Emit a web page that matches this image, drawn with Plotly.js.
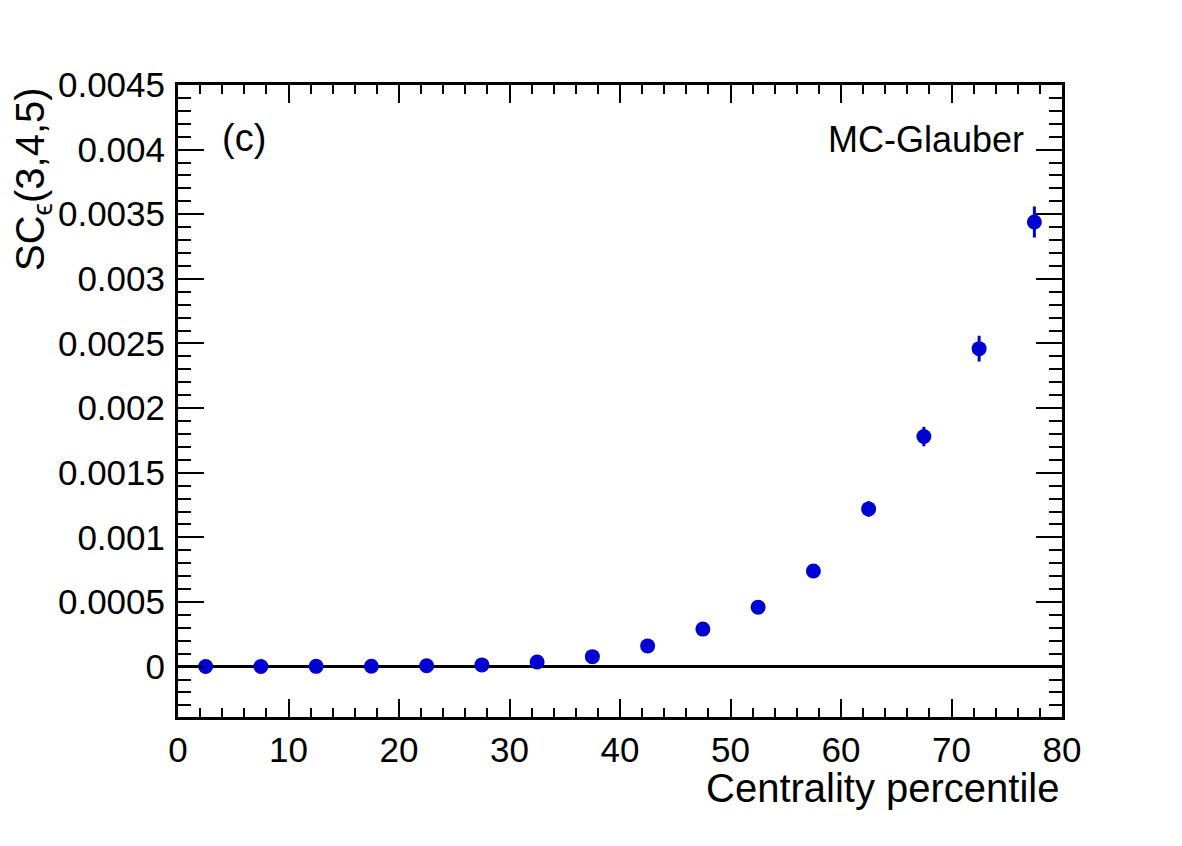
<!DOCTYPE html>
<html>
<head>
<meta charset="utf-8">
<script src="https://cdn.plot.ly/plotly-3.0.1.min.js"></script>
<style>html,body{margin:0;padding:0;background:#fff;}#chart{width:1182px;height:846px;}</style>
</head>
<body>
<div id="chart"></div>
<script>
// Centrality bin centres (%)
var centrality = [2.5, 7.5, 12.5, 17.5, 22.5, 27.5, 32.5, 37.5, 42.5, 47.5, 52.5, 57.5, 62.5, 67.5, 72.5, 77.5];
// SC_eps(3,4,5) values
var scValues = [0.000001, 0.000001, 0.000002, 0.000003, 0.000006, 0.000013, 0.000035, 0.000077, 0.00016, 0.00029, 0.00046, 0.00074, 0.00122, 0.00178, 0.00246, 0.00344];
// statistical errors
var scErrors = [0.000001, 0.000001, 0.000001, 0.000002, 0.000002, 0.000003, 0.000005, 0.000007, 0.00001, 0.000013, 0.000018, 0.000028, 0.00006, 0.000075, 0.0001, 0.00012];

var FONT = "'Liberation Sans', Arial, Helvetica, sans-serif";
var blue = "#0000d2";

var trace = {
  x: centrality,
  y: scValues,
  type: "scatter",
  mode: "markers",
  marker: {color: blue, size: 15},
  error_y: {type: "data", array: scErrors, visible: true, color: blue, thickness: 3, width: 0},
  showlegend: false,
  cliponaxis: false
};

var layout = {
  width: 1182,
  height: 846,
  paper_bgcolor: "#ffffff",
  plot_bgcolor: "#ffffff",
  margin: {l: 178, r: 120, t: 85, b: 129, pad: 0},
  font: {family: FONT, color: "#000", size: 35},
  xaxis: {
    range: [0, 80],
    tick0: 0, dtick: 10,
    ticks: "inside", ticklen: 18, tickwidth: 2, tickcolor: "#000",
    minor: {dtick: 2, ticks: "inside", ticklen: 9, tickwidth: 2, tickcolor: "#000"},
    showline: true, linecolor: "#000", linewidth: 3, mirror: "allticks",
    showgrid: false, zeroline: false,
    tickfont: {family: FONT, size: 35, color: "#000"},
    ticklabelstandoff: 0
  },
  yaxis: {
    range: [-0.00039, 0.0045],
    tick0: 0, dtick: 0.0005,
    tickformat: ".4~f",
    ticks: "inside", ticklen: 26, tickwidth: 2, tickcolor: "#000",
    minor: {dtick: 0.0001, ticks: "inside", ticklen: 13, tickwidth: 2, tickcolor: "#000"},
    showline: true, linecolor: "#000", linewidth: 3, mirror: "allticks",
    showgrid: false,
    zeroline: true, zerolinecolor: "#000", zerolinewidth: 2.5,
    tickfont: {family: FONT, size: 35, color: "#000"},
    ticklabelstandoff: 3
  },
  annotations: [
    {text: "Centrality percentile", xref: "paper", yref: "paper", x: 1, y: 0, xanchor: "right", yanchor: "top",
     yshift: -47, showarrow: false, font: {family: FONT, size: 40, color: "#000"}},
    {text: "SC<sub>ϵ</sub>(3,4,5)", xref: "paper", yref: "paper", x: 0, y: 1, xanchor: "left", yanchor: "top",
     xshift: -172, showarrow: false, textangle: -90, font: {family: FONT, size: 40, color: "#000"}},
    {text: "(c)", xref: "paper", yref: "paper", x: 0, y: 1, xanchor: "left", yanchor: "top",
     xshift: 42, yshift: -30, showarrow: false, font: {family: FONT, size: 38, color: "#000"}},
    {text: "MC-Glauber", xref: "paper", yref: "paper", x: 1, y: 1, xanchor: "right", yanchor: "top",
     xshift: -36, yshift: -32, showarrow: false, font: {family: FONT, size: 36, color: "#000"}}
  ]
};

Plotly.newPlot("chart", [trace], layout, {staticPlot: true, displayModeBar: false});
</script>
</body>
</html>
